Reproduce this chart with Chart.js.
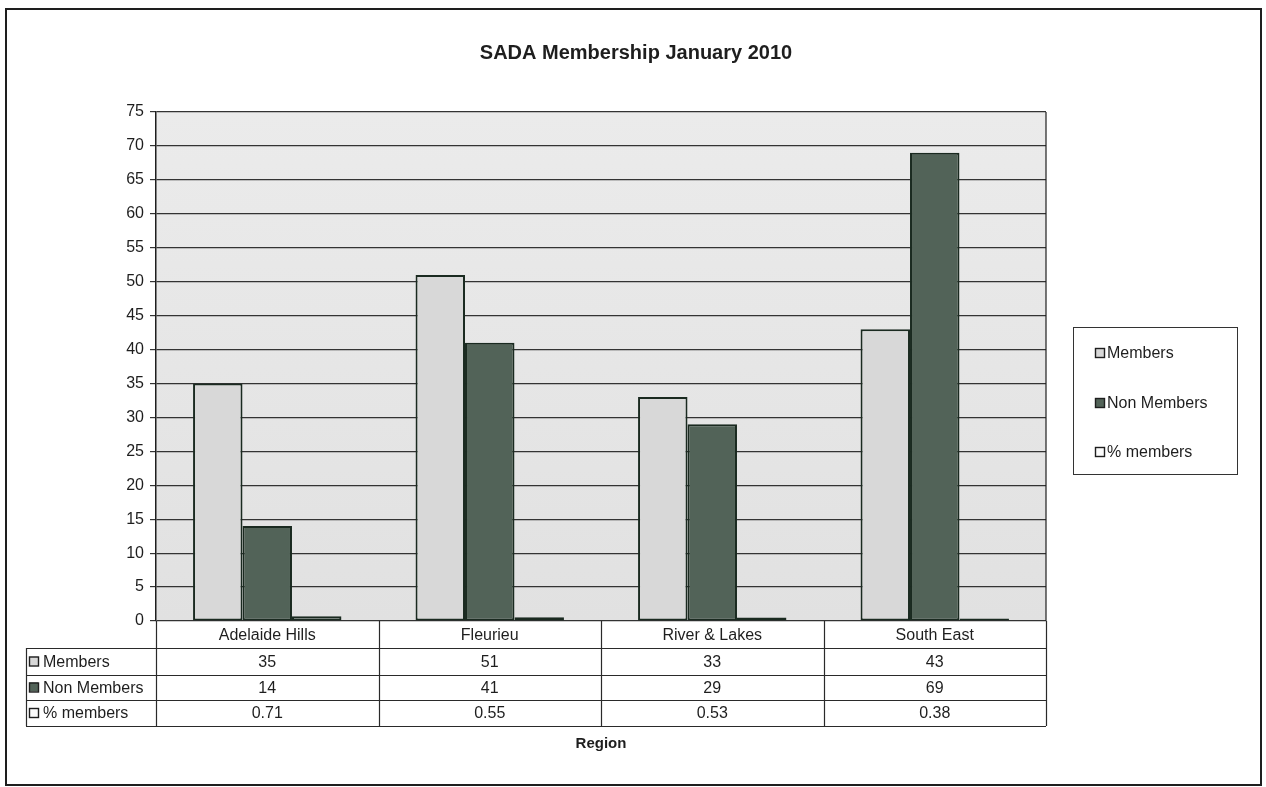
<!DOCTYPE html>
<html>
<head>
<meta charset="utf-8">
<script src="https://cdn.jsdelivr.net/npm/chart.js@4.4.1/dist/chart.umd.min.js"></script>
<style>
    html, body { margin: 0; padding: 0; background: #fff; }
    #wrap { width: 1266px; height: 787px; position: relative; }
</style>
</head>
<body>
<div id="wrap"><canvas id="membershipChart" width="1266" height="787"></canvas></div>
<script>
const chartTitle = 'SADA Membership January 2010';
const axisTitle = 'Region';
const regions = ['Adelaide Hills', 'Fleurieu', 'River & Lakes', 'South East'];
const seriesNames = ['Members', 'Non Members', '% members'];
const members = [35, 51, 33, 43];
const nonMembers = [14, 41, 29, 69];
const pctMembers = [0.71, 0.55, 0.53, 0.38];
const yMin = 0;
const yMax = 75;
const yStep = 5;

const font = '"Liberation Sans", Arial, sans-serif';
const ink = '#1e1e1e';
const fills = ['#d8d8d8', '#526358', '#fbfbfb'];
const edges = ['#1a2a20', '#1a2a20', '#1a2a20'];

function drawKey(ctx, x, y, i) {
    ctx.fillStyle = fills[i];
    ctx.fillRect(x, y, 9, 9);
    ctx.strokeStyle = ink;
    ctx.lineWidth = 1.4;
    ctx.strokeRect(x + 0.5, y + 0.5, 9, 9);
}

const decor = {
    id: 'decor',
    beforeDraw(chart) {
        const {ctx, chartArea: a} = chart;
        ctx.save();
        ctx.fillStyle = '#fff';
        ctx.fillRect(0, 0, chart.width, chart.height);
        const g = ctx.createLinearGradient(0, a.top, 0, a.bottom);
        g.addColorStop(0, '#ebebeb');
        g.addColorStop(1, '#e1e1e1');
        ctx.fillStyle = g;
        ctx.fillRect(a.left, a.top, a.right - a.left, a.bottom - a.top);
        ctx.restore();
    },
    afterDraw(chart) {
        const {ctx, chartArea: a} = chart;
        const xs = chart.scales.x;
        ctx.save();

        // outer frame
        ctx.strokeStyle = ink;
        ctx.lineWidth = 2;
        ctx.strokeRect(6, 9, 1255, 776);

        // plot right edge
        ctx.lineWidth = 1.2;
        ctx.beginPath();
        ctx.moveTo(a.right, a.top);
        ctx.lineTo(a.right, a.bottom);
        ctx.stroke();

        // title
        ctx.fillStyle = ink;
        ctx.textAlign = 'center';
        ctx.textBaseline = 'middle';
        ctx.font = 'bold 20px ' + font;
        ctx.fillText(chartTitle, 636, 53);

        // data table
        const rows = [a.bottom, 648, 675, 700, 726];
        const tableLeft = 26;
        const n = regions.length;
        const cw = (a.right - a.left) / n;
        ctx.lineWidth = 1.2;
        ctx.strokeStyle = '#2a2a2a';
        ctx.beginPath();
        for (let r = 1; r < rows.length; r++) {
            ctx.moveTo(tableLeft, rows[r] + 0.5);
            ctx.lineTo(a.right, rows[r] + 0.5);
        }
        for (let i = 0; i <= n; i++) {
            const x = Math.round(a.left + i * cw) + 0.5;
            ctx.moveTo(x, rows[0]);
            ctx.lineTo(x, rows[4]);
        }
        ctx.moveTo(tableLeft + 0.5, rows[1]);
        ctx.lineTo(tableLeft + 0.5, rows[4]);
        ctx.stroke();

        ctx.font = '16px ' + font;
        ctx.fillStyle = ink;
        const rowData = [members, nonMembers, pctMembers];
        regions.forEach((name, i) => {
            const cx = xs.getPixelForValue(i);
            ctx.textAlign = 'center';
            ctx.fillText(name, cx, (rows[0] + rows[1]) / 2 + 1);
            rowData.forEach((vals, r) => {
                const txt = r === 2 ? vals[i].toFixed(2) : String(vals[i]);
                ctx.fillText(txt, cx, (rows[r + 1] + rows[r + 2]) / 2 + 1);
            });
        });
        seriesNames.forEach((name, r) => {
            const cy = (rows[r + 1] + rows[r + 2]) / 2;
            drawKey(ctx, 29, cy - 5, r);
            ctx.fillStyle = ink;
            ctx.textAlign = 'left';
            ctx.fillText(name, 43, cy + 1);
        });

        // axis title
        ctx.font = 'bold 15px ' + font;
        ctx.textAlign = 'center';
        ctx.fillText(axisTitle, (a.left + a.right) / 2, 744);

        // legend
        ctx.strokeStyle = '#333';
        ctx.lineWidth = 1;
        ctx.strokeRect(1073.5, 327.5, 164, 147);
        ctx.font = '16px ' + font;
        const ly = [353, 403, 452];
        seriesNames.forEach((name, r) => {
            drawKey(ctx, 1095, ly[r] - 5, r);
            ctx.fillStyle = ink;
            ctx.textAlign = 'left';
            ctx.fillText(name, 1107, ly[r] + 1);
        });

        ctx.restore();
    }
};

const seriesValues = [members, nonMembers, pctMembers];
const ctx = document.getElementById('membershipChart').getContext('2d');
new Chart(ctx, {
    type: 'bar',
    data: {
        labels: regions,
        datasets: seriesNames.map((name, i) => ({
            label: name,
            data: seriesValues[i],
            backgroundColor: fills[i],
            borderColor: edges[i],
            borderWidth: 2,
            borderSkipped: false,
            categoryPercentage: 0.667,
            barPercentage: 1.0
        }))
    },
    options: {
        responsive: false,
        animation: false,
        devicePixelRatio: 1,
        layout: {padding: {left: 0, right: 220, top: 112, bottom: 166}},
        plugins: {
            legend: {display: false},
            title: {display: false},
            tooltip: {enabled: false}
        },
        scales: {
            x: {display: false},
            y: {
                min: yMin,
                max: yMax,
                afterFit(scale) { scale.width = 156; },
                ticks: {stepSize: yStep, color: ink, font: {family: font, size: 16}, padding: 6},
                grid: {color: '#333', lineWidth: 1.2, tickLength: 6},
                border: {display: true, color: ink, width: 1.5}
            }
        }
    },
    plugins: [decor]
});
</script>
</body>
</html>
